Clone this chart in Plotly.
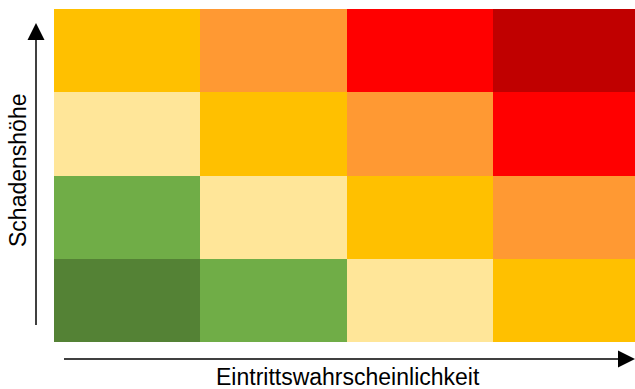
import plotly.graph_objects as go

# Risk matrix: likelihood (x) vs. damage severity (y), bottom row first
likelihood = [1, 2, 3, 4]
severity = [1, 2, 3, 4]
risk_level = [
    [0, 1, 2, 3],
    [1, 2, 3, 4],
    [2, 3, 4, 5],
    [3, 4, 5, 6],
]
level_colors = ["#548235", "#70AD47", "#FFE699", "#FFC000",
                "#FF9933", "#FF0000", "#C00000"]

x_title = "Eintrittswahrscheinlichkeit"
y_title = "Schadenshöhe"

W, H = 635, 389
L, R, T, B = 54, 0, 9, 47
pw, ph = W - L - R, H - T - B


def px(x):
    return (x - L) / pw


def py(y):
    return (H - B - y) / ph


scale = [[i / (len(level_colors) - 1), c] for i, c in enumerate(level_colors)]

fig = go.Figure(go.Heatmap(
    x=likelihood, y=severity, z=risk_level,
    colorscale=scale, zmin=0, zmax=len(level_colors) - 1,
    showscale=False, hoverinfo="skip",
))

cell_w = 146.3
fig.update_xaxes(visible=False, range=[0.5, 0.5 + pw / cell_w])
fig.update_yaxes(visible=False, range=[0.5, 4.5])

line_style = dict(color="black", width=1.5)
shapes = [
    # vertical axis arrow
    dict(type="line", xref="paper", yref="paper",
         x0=px(36), x1=px(36), y0=py(325), y1=py(38), line=line_style),
    dict(type="path", xref="paper", yref="paper",
         path=f"M {px(36)} {py(23)} L {px(27.5)} {py(40)} L {px(44.5)} {py(40)} Z",
         fillcolor="black", line=dict(width=0)),
    # horizontal axis arrow
    dict(type="line", xref="paper", yref="paper",
         x0=px(64), x1=px(620), y0=py(359), y1=py(359), line=line_style),
    dict(type="path", xref="paper", yref="paper",
         path=f"M {px(635)} {py(359)} L {px(618)} {py(350.5)} L {px(618)} {py(367.5)} Z",
         fillcolor="black", line=dict(width=0)),
]

font = dict(family="Liberation Sans, Arial, sans-serif", size=23, color="black")
annotations = [
    dict(text=x_title, xref="paper", yref="paper", x=px(348), y=py(377),
         xanchor="center", yanchor="middle", showarrow=False, font=font),
    dict(text=y_title, xref="paper", yref="paper", x=px(18), y=py(171),
         xanchor="center", yanchor="middle", showarrow=False, font=font,
         textangle=-90),
]

fig.update_layout(
    width=W, height=H,
    margin=dict(l=L, r=R, t=T, b=B, pad=0),
    paper_bgcolor="white", plot_bgcolor="white",
    shapes=shapes, annotations=annotations,
)

fig.write_html("out.html")
